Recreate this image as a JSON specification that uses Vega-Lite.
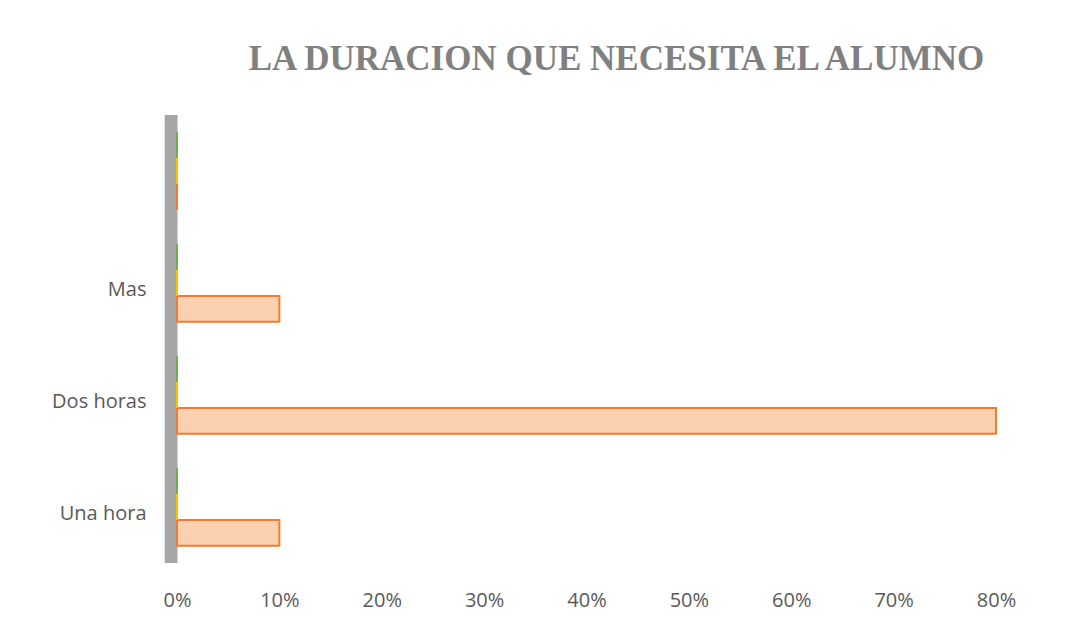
{
  "$schema": "https://vega.github.io/schema/vega-lite/v6.json",
  "width": 819,
  "height": 448,
  "autosize": {"type": "none"},
  "padding": {"left": 177, "top": 115, "right": 71, "bottom": 72},
  "background": "white",
  "config": {"view": {"stroke": null}},
  "title": {
    "text": "LA DURACION QUE NECESITA EL ALUMNO",
    "font": "Liberation Serif",
    "fontSize": 35,
    "fontWeight": "bold",
    "color": "#808080",
    "anchor": "middle",
    "dx": 30,
    "offset": 38
  },
  "datasets": {
    "wall": [{"x0": -0.012, "x1": 0.0005}],
    "bars": [
      {"cat": " ", "series": "Serie 1", "value": 0},
      {"cat": " ", "series": "Serie 2", "value": 0},
      {"cat": " ", "series": "Serie 3", "value": 0},
      {"cat": "Mas", "series": "Serie 1", "value": 0.1},
      {"cat": "Mas", "series": "Serie 2", "value": 0},
      {"cat": "Mas", "series": "Serie 3", "value": 0},
      {"cat": "Dos horas", "series": "Serie 1", "value": 0.8},
      {"cat": "Dos horas", "series": "Serie 2", "value": 0},
      {"cat": "Dos horas", "series": "Serie 3", "value": 0},
      {"cat": "Una hora", "series": "Serie 1", "value": 0.1},
      {"cat": "Una hora", "series": "Serie 2", "value": 0},
      {"cat": "Una hora", "series": "Serie 3", "value": 0}
    ]
  },
  "layer": [
    {
      "data": {"name": "wall"},
      "mark": {"type": "rect", "color": "#a6a6a6"},
      "encoding": {
        "x": {
          "field": "x0",
          "type": "quantitative",
          "scale": {"domain": [0, 0.8], "nice": false},
          "axis": {
            "title": null,
            "format": ".0%",
            "values": [0, 0.1, 0.2, 0.3, 0.4, 0.5, 0.6, 0.7, 0.8],
            "grid": false,
            "domain": false,
            "ticks": false,
            "labelFlush": false,
            "labelFont": "Open Sans",
            "labelFontSize": 20,
            "labelColor": "#595959",
            "labelPadding": 27
          }
        },
        "x2": {"field": "x1"}
      }
    },
    {
      "data": {"name": "bars"},
      "mark": {"type": "bar", "strokeWidth": 2},
      "encoding": {
        "y": {
          "field": "cat",
          "type": "nominal",
          "sort": [" ", "Mas", "Dos horas", "Una hora"],
          "scale": {"paddingInner": 0.31, "paddingOuter": 0.155},
          "axis": {
            "title": null,
            "domain": false,
            "ticks": false,
            "labelFont": "Open Sans",
            "labelFontSize": 20,
            "labelColor": "#595959",
            "labelPadding": 31,
            "labelOffset": 7
          }
        },
        "yOffset": {
          "field": "series",
          "type": "nominal",
          "sort": ["Serie 3", "Serie 2", "Serie 1"],
          "scale": {"paddingInner": 0, "paddingOuter": 0}
        },
        "x": {
          "field": "value",
          "type": "quantitative",
          "scale": {"domain": [0, 0.8], "nice": false},
          "axis": {
            "title": null,
            "format": ".0%",
            "values": [0, 0.1, 0.2, 0.3, 0.4, 0.5, 0.6, 0.7, 0.8],
            "grid": false,
            "domain": false,
            "ticks": false,
            "labelFlush": false,
            "labelFont": "Open Sans",
            "labelFontSize": 20,
            "labelColor": "#595959",
            "labelPadding": 27
          }
        },
        "fill": {
          "field": "series",
          "type": "nominal",
          "scale": {"domain": ["Serie 1", "Serie 2", "Serie 3"], "range": ["#fbd0b0", "#ffe699", "#a9d18e"]},
          "legend": null
        },
        "stroke": {
          "field": "series",
          "type": "nominal",
          "scale": {"domain": ["Serie 1", "Serie 2", "Serie 3"], "range": ["#ed7d31", "#ffc000", "#70ad47"]},
          "legend": null
        }
      }
    }
  ]
}
